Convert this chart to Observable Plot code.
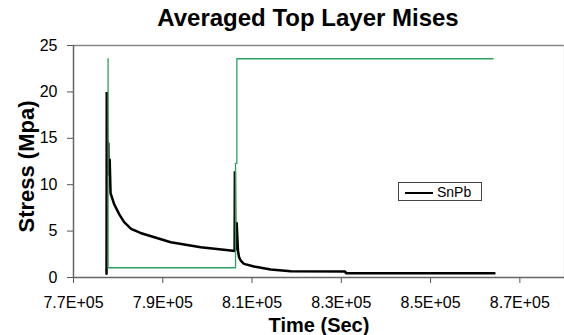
<!DOCTYPE html>
<html>
<head>
<meta charset="utf-8">
<script src="https://cdn.jsdelivr.net/npm/d3@7"></script>
<script src="https://cdn.jsdelivr.net/npm/@observablehq/plot@0.6"></script>
<style>
  body { margin: 0; background: #fff; font-family: "Liberation Sans", Arial, sans-serif; }
  #wrap { position: relative; width: 564px; height: 335px; overflow: hidden; background: #fff; }
  #title { height: 36px; box-sizing: border-box; padding: 4px 0 0 52px; text-align: center;
           font-size: 24px; line-height: 28px; font-weight: bold; color: #000; }
  #legend { position: absolute; left: 398px; top: 182px; width: 82px; height: 17px;
            border: 1px solid #444; background: #fff; }
  #legend .swatch { position: absolute; left: 6px; top: 9px; width: 28px; height: 0;
                    border-top: 2.4px solid #000; }
  #legend .label { position: absolute; left: 38px; top: 2px; font-size: 14px; line-height: 14px; color: #000; }
  svg text { fill: #000; }
</style>
</head>
<body>
<div id="wrap">
  <div id="title">Averaged Top Layer Mises</div>
  <div id="chart"></div>
  <div id="legend"><span class="swatch"></span><span class="label">SnPb</span></div>
</div>
<script>
// SnPb averaged top-layer von Mises stress over two thermal dwells
const snpbTime = [
  777400, 777450, 777550, 777800, 777850, 778100, 778300, 779100, 780200, 781300,
  782900, 785000, 791800, 798500, 805200, 806100, 806150, 806250, 806550, 806850,
  807080, 807460, 808200, 810440, 814180, 818660, 830900, 831000, 864300
];
const snpbStress = [
  0.4, 20.0, 14.5, 14.5, 11.0, 12.8, 9.1, 7.9, 6.86, 6.0,
  5.25, 4.8, 3.8, 3.27, 2.9, 2.85, 11.45, 2.9, 5.96, 2.9,
  2.19, 1.83, 1.47, 1.18, 0.86, 0.68, 0.65, 0.46, 0.46
];

// Load step profile
const stepTime = [777750, 777750, 806300, 806300, 806600, 806600, 864000];
const stepValue = [23.57, 1.05, 1.05, 12.3, 12.3, 23.57, 23.57];

// Axis ticks
const xTicks = [770000, 790000, 810000, 830000, 850000, 870000];
const yTicks = [0, 5, 10, 15, 20, 25];
const xDomain = [770000, 880000];
const yDomain = [0, 25];

const fmtSci = v => (v / 1e5).toFixed(1) + "E+05";

const chart = Plot.plot({
  width: 564,
  height: 299,
  marginLeft: 73,
  marginRight: 0,
  marginTop: 9,
  marginBottom: 58,
  style: { fontFamily: "Liberation Sans, Arial, sans-serif", fontSize: "16px", color: "#555", background: "#fff", overflow: "visible" },
  x: { domain: xDomain, ticks: xTicks, tickFormat: fmtSci, tickSize: 6, tickPadding: 13, label: null },
  y: { domain: yDomain, ticks: yTicks, tickSize: 6, tickPadding: 10, label: null },
  marks: [
    Plot.ruleY([yDomain[1]], { stroke: "#888", strokeWidth: 1.5 }),
    Plot.ruleX([xDomain[1]], { stroke: "#ccc", strokeWidth: 1.5 }),
    Plot.line(snpbStress, { x: snpbTime, y: snpbStress, stroke: "#000", strokeWidth: 2.5, strokeLinejoin: "miter" }),
    Plot.line(stepValue, { x: stepTime, y: stepValue, stroke: "#2e9e62", strokeWidth: 1.3 }),
    Plot.ruleY([yDomain[0]], { stroke: "#666", strokeWidth: 1.5 }),
    Plot.ruleX([xDomain[0]], { stroke: "#666", strokeWidth: 1.5 }),
    Plot.text(["Time (Sec)"], { frameAnchor: "bottom", textAnchor: "middle", lineAnchor: "middle", dy: 48, text: d => d, fontSize: 20, fontWeight: "bold", fill: "#000" }),
    Plot.text(["Stress (Mpa)"], { frameAnchor: "left", textAnchor: "middle", lineAnchor: "middle", dx: -47, dy: 5, rotate: -90, text: d => d, fontSize: 22, fontWeight: "bold", fill: "#000" })
  ]
});
document.getElementById("chart").appendChild(chart);
</script>
</body>
</html>
